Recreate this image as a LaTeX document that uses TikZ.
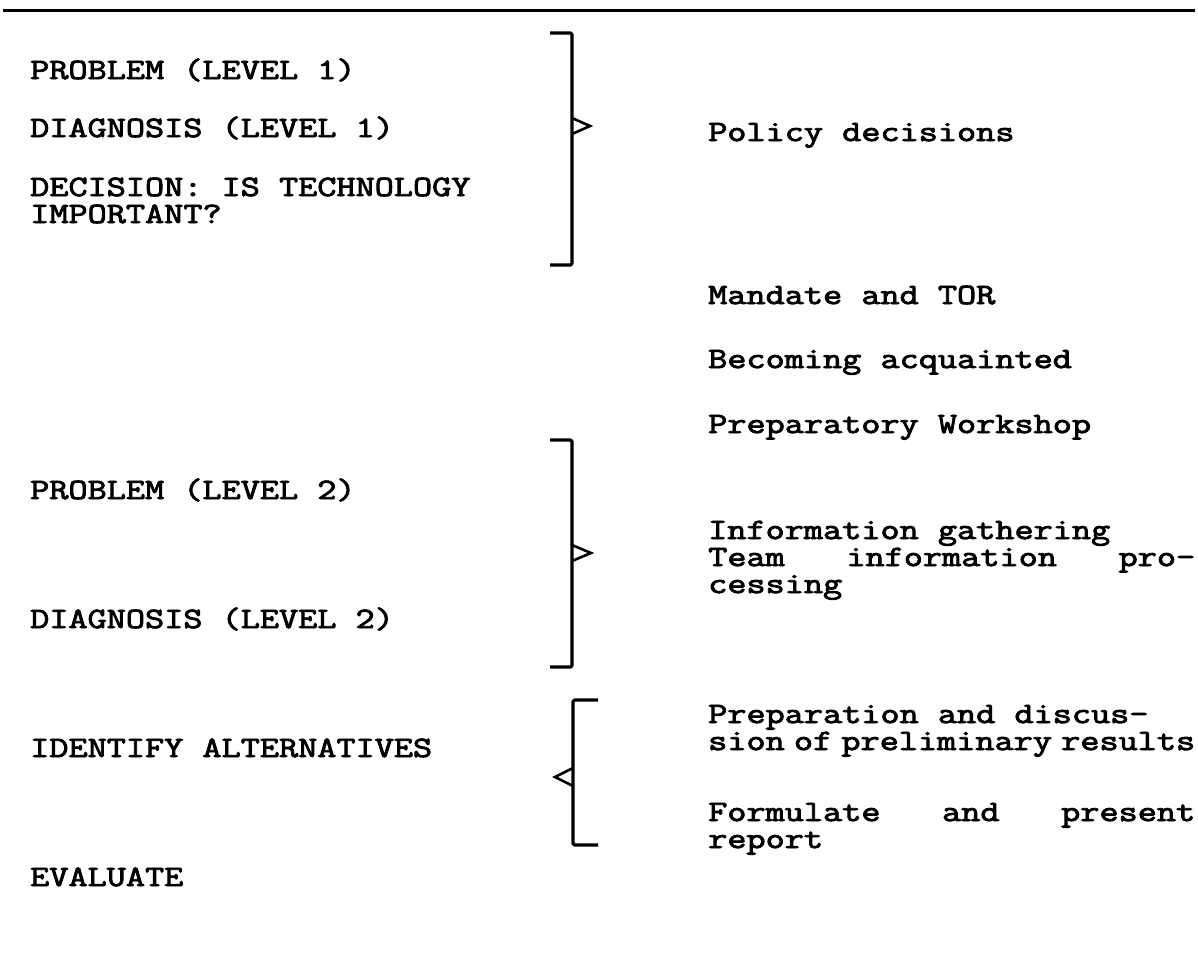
\documentclass[tikz,border=0pt]{standalone}
\usepackage{fontspec}
\setmonofont{Latin Modern Mono}[FakeStretch=1.26, FakeBold=3]
\usetikzlibrary{positioning}

\newlength{\jwidth}
\setlength{\jwidth}{487pt}
\newcommand{\jline}[1]{\makebox[\jwidth][l]{#1}}

\begin{document}
\begin{tikzpicture}[
    x=1pt, y=-1pt,
    txt/.style={anchor=base west, inner sep=0pt, align=left,
                font=\ttfamily\fontsize{29.5}{27}\selectfont},
    brak/.style={line width=3.2pt, line join=round, rounded corners=1.5pt},
    tip/.style={line width=2.6pt, line join=miter}
  ]
  \useasboundingbox (0,0) rectangle (1198,961);
  \draw[line width=3pt] (3,10) -- (1195,10);

  % left column (multi-line nodes sit on their last baseline)
  \node[txt] (probone) at (30,79) {PROBLEM (LEVEL 1)};
  \node[txt] (diagone) at (30,137) {DIAGNOSIS (LEVEL 1)};
  \node[txt] (decision) at (30,223) {DECISION: IS TECHNOLOGY\\IMPORTANT?};
  \node[txt] (probtwo) at (30,499) {PROBLEM (LEVEL 2)};
  \node[txt] (diagtwo) at (30,628) {DIAGNOSIS (LEVEL 2)};
  \node[txt] (identify) at (30,757) {IDENTIFY ALTERNATIVES};
  \node[txt] (evaluate) at (30,886) {EVALUATE};

  % right column
  \node[txt] (policy) at (708,141) {Policy decisions};
  \node[txt] (mandate) at (708,304) {Mandate and TOR};
  \node[txt] (acquaint) at (708,368) {Becoming acquainted};
  \node[txt] (workshop) at (708,433) {Preparatory Workshop};
  \node[txt] (info) at (708,593) {Information gathering\\
        \jline{Team\hfill information\hfill pro-}\\cessing};
  \node[txt] (prelim) at (708,750) {Preparation and discus-\\
        \jline{sion\hfill of\hfill preliminary\hfill results}};
  \node[txt] (report) at (708,848) {\jline{Formulate\hfill and\hfill present}\\report};

  % brackets
  \draw[brak] (550,33) -- (572,33) -- (572,265) -- (550,265);
  \draw[tip] (572,118) -- (590,126) -- (572,134);
  \draw[brak] (550,440) -- (572,440) -- (572,667) -- (550,667);
  \draw[tip] (572,545) -- (591,553) -- (572,561);
  \draw[brak] (598,700) -- (573,700) -- (573,845) -- (598,845);
  \draw[tip] (573,768) -- (555,777) -- (573,786);
\end{tikzpicture}
\end{document}
